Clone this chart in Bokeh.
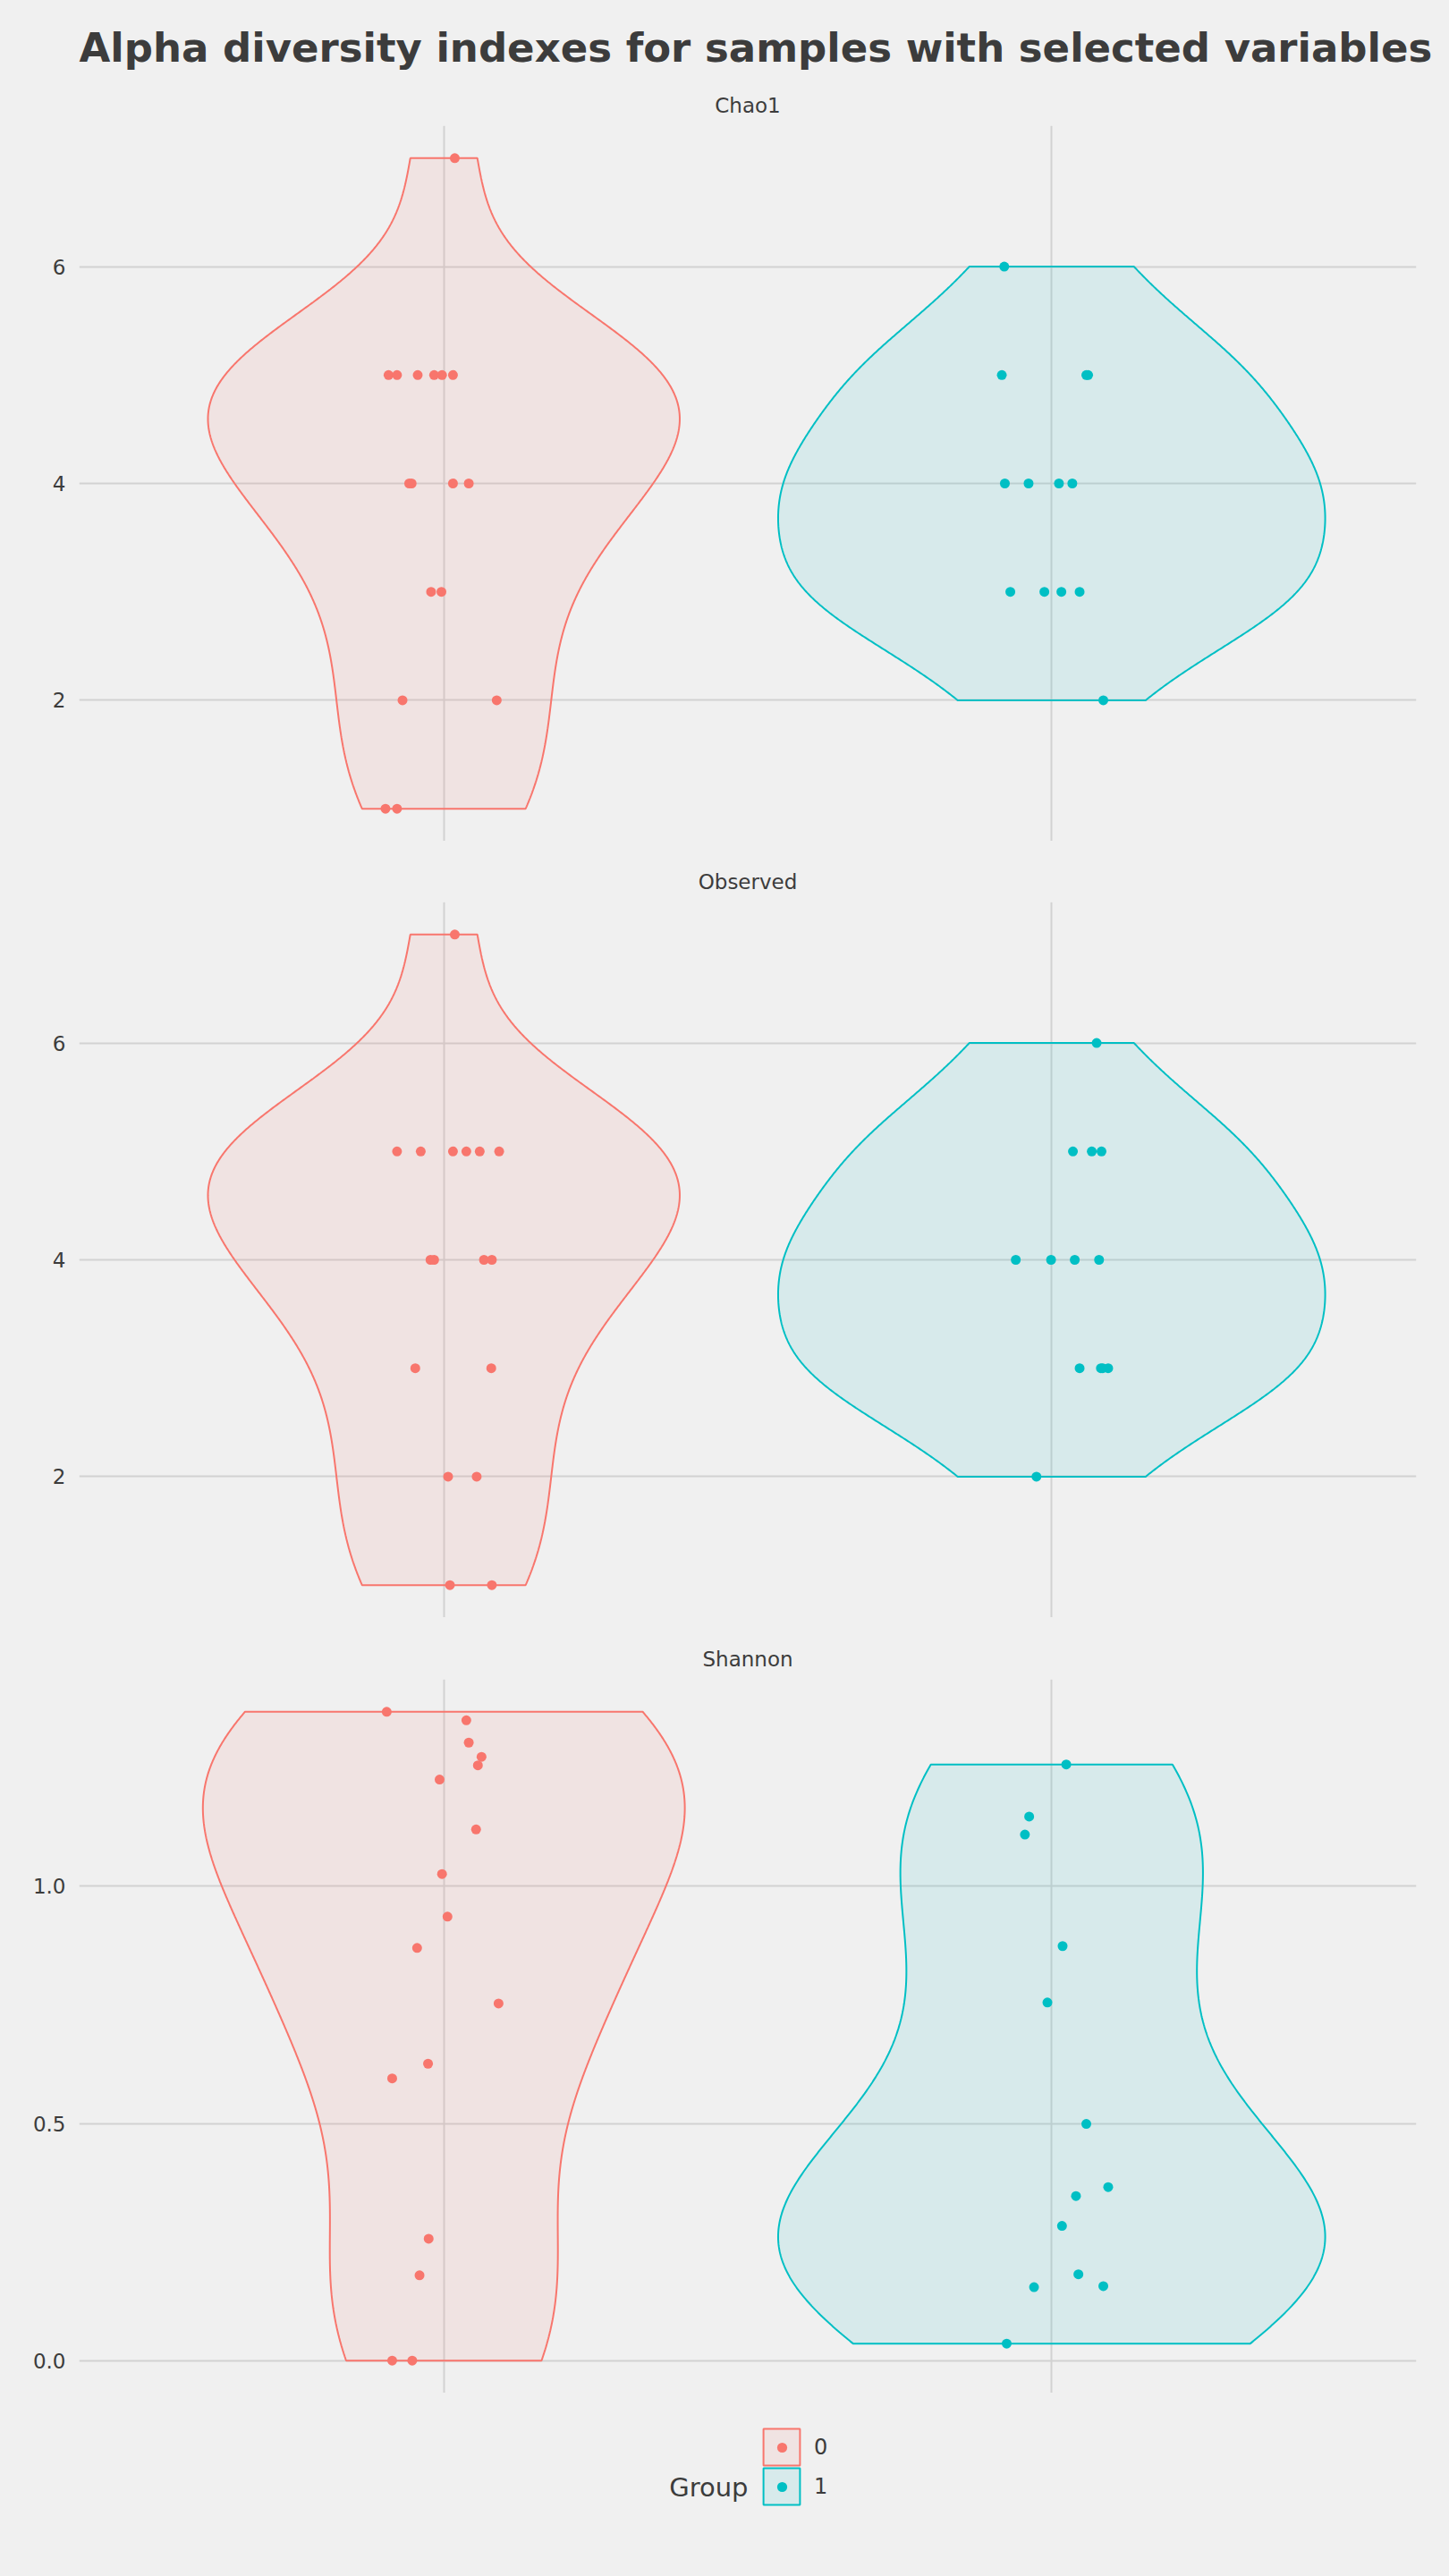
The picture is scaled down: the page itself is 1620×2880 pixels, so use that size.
import numpy as np
from bokeh.plotting import figure
from bokeh.models import (Range1d, FixedTicker, NumeralTickFormatter, BasicTickFormatter,
                          Title, Legend, LegendItem, Label, Grid)
from bokeh.core.properties import value
from bokeh.layouts import column
from bokeh.embed import file_html
from bokeh.resources import INLINE

# ---------------- data ----------------
main_title = "Alpha diversity indexes for samples with selected variables"
metrics = ["Chao1", "Observed", "Shannon"]
groups = ["0", "1"]
group_colors = ["#F8766D", "#00BFC4"]
legend_title = "Group"

chao1_g0 = [7, 5, 5, 5, 5, 5, 5, 4, 4, 4, 4, 3, 3, 2, 2, 1, 1]
chao1_g0_jitter = [0.018, -0.091, -0.077, -0.043, -0.016, -0.003, 0.015, -0.057, -0.053,
                   0.015, 0.041, -0.021, -0.004, -0.068, 0.087, -0.096, -0.077]
chao1_g1 = [6, 5, 5, 5, 4, 4, 4, 4, 3, 3, 3, 3, 2]
chao1_g1_jitter = [-0.078, -0.082, 0.057, 0.060, -0.077, -0.038, 0.012, 0.034, -0.068,
                   -0.012, 0.016, 0.046, 0.085]

observed_g0 = [7, 5, 5, 5, 5, 5, 5, 4, 4, 4, 4, 3, 3, 2, 2, 1, 1]
observed_g0_jitter = [0.018, -0.077, -0.038, 0.015, 0.037, 0.059, 0.091, -0.022, -0.016,
                      0.066, 0.079, -0.047, 0.078, 0.007, 0.054, 0.010, 0.079]
observed_g1 = [6, 5, 5, 5, 4, 4, 4, 4, 3, 3, 3, 3, 2]
observed_g1_jitter = [0.074, 0.035, 0.066, 0.082, -0.059, -0.001, 0.038, 0.078, 0.046,
                      0.081, 0.084, 0.093, -0.025]

shannon_g0 = [1.368, 1.350, 1.303, 1.273, 1.255, 1.225, 1.120, 1.026, 0.936, 0.870,
              0.753, 0.626, 0.595, 0.257, 0.180, 0.000, 0.000]
shannon_g0_jitter = [-0.094, 0.037, 0.041, 0.062, 0.056, -0.007, 0.053, -0.003, 0.006,
                     -0.044, 0.090, -0.026, -0.085, -0.025, -0.040, -0.085, -0.052]
shannon_g1 = [1.257, 1.147, 1.109, 0.874, 0.755, 0.499, 0.366, 0.347, 0.284, 0.182,
              0.157, 0.155, 0.036]
shannon_g1_jitter = [0.024, -0.037, -0.044, 0.018, -0.007, 0.057, 0.093, 0.040, 0.017,
                     0.044, 0.085, -0.029, -0.074]

chao1_ticks = [2, 4, 6]
observed_ticks = [2, 4, 6]
shannon_ticks = [0.0, 0.5, 1.0]

# ---------------- style ----------------
BG = "#F0F0F0"
TXT = "#3C3C3C"
GRID = "#D2D2D2"
FONT = "DejaVu Sans"
W = 1620
LEFT, RIGHT = 88, 37


def nrd0(x):
    x = np.asarray(x, float)
    sd = x.std(ddof=1)
    q75, q25 = np.percentile(x, [75, 25])
    lo = min(sd, (q75 - q25) / 1.34)
    if lo <= 0:
        lo = sd if sd > 0 else 1.0
    return 0.9 * lo * len(x) ** -0.2


def kde(x, grid):
    x = np.asarray(x, float)
    bw = nrd0(x)
    z = (grid[:, None] - x[None, :]) / bw
    return np.exp(-0.5 * z ** 2).sum(axis=1) / (len(x) * bw * np.sqrt(2 * np.pi))


def make_panel(name, series, jitters, ticks, fmt, height, top, first=False):
    allv = np.concatenate([np.asarray(s, float) for s in series])
    lo, hi = allv.min(), allv.max()
    pad = 0.05 * (hi - lo)
    p = figure(width=W, height=height, x_range=Range1d(0.4, 2.6),
               y_range=Range1d(lo - pad, hi + pad), x_axis_location=None,
               output_backend="svg", toolbar_location=None,
               min_border_left=LEFT, min_border_right=RIGHT,
               min_border_top=top, min_border_bottom=0,
               background_fill_color=BG, border_fill_color=BG,
               outline_line_color=None, styles={"background-color": BG})
    p.xgrid.grid_line_color = None
    positions = [i + 1 for i in range(len(groups))]
    p.add_layout(Grid(dimension=0, ticker=FixedTicker(ticks=positions),
                      grid_line_color=GRID, grid_line_width=2), "center")
    p.yaxis.ticker = FixedTicker(ticks=ticks)
    p.ygrid.ticker = FixedTicker(ticks=ticks)
    p.ygrid.grid_line_color = GRID
    p.ygrid.grid_line_width = 2
    p.yaxis.formatter = fmt
    p.yaxis.axis_line_color = None
    p.yaxis.major_tick_line_color = None
    p.yaxis.minor_tick_line_color = None
    p.yaxis.major_tick_out = 0
    p.yaxis.major_tick_in = 0
    p.yaxis.minor_tick_out = 0
    p.yaxis.major_label_standoff = 15
    p.yaxis.major_label_text_font_size = "23px"
    p.yaxis.major_label_text_color = TXT
    p.yaxis.major_label_text_font = FONT

    # violins (ggplot-style: gaussian KDE, trimmed, area-scaled within panel, width 0.9)
    dens = []
    for s in series:
        s = np.asarray(s, float)
        g = np.linspace(s.min(), s.max(), 512)
        dens.append((g, kde(s, g)))
    dmax = max(d.max() for _, d in dens)
    for xc, (g, d), c in zip(positions, dens, group_colors):
        half = d / dmax * 0.45
        xs = np.concatenate([xc - half, (xc + half)[::-1]])
        ys = np.concatenate([g, g[::-1]])
        p.patch(xs, ys, fill_color=c, fill_alpha=0.1, line_color=c, line_width=2)
    for xc, s, j, c in zip(positions, series, jitters, group_colors):
        p.scatter(xc + np.asarray(j), np.asarray(s, float), size=11,
                  fill_color=c, line_color=None)

    p.add_layout(Title(text=name, align="center", text_font_size="23px",
                       text_font=FONT, text_font_style="normal", text_color=TXT,
                       standoff=19), "above")
    if first:
        p.add_layout(Title(text=main_title, align="left", text_font_size="45px",
                           text_font=FONT, text_font_style="bold", text_color=TXT,
                           standoff=27), "above")
    return p


p1 = make_panel(metrics[0], [chao1_g0, chao1_g1], [chao1_g0_jitter, chao1_g1_jitter],
                chao1_ticks, BasicTickFormatter(), 940, 140, first=True)
p2 = make_panel(metrics[1], [observed_g0, observed_g1], [observed_g0_jitter, observed_g1_jitter],
                observed_ticks, BasicTickFormatter(), 868, 68)
p3 = make_panel(metrics[2], [shannon_g0, shannon_g1], [shannon_g0_jitter, shannon_g1_jitter],
                shannon_ticks, NumeralTickFormatter(format="0.0"), 867, 69)

# ---------------- legend strip (frame is aligned with the panels above) ----------------
p4 = figure(width=W, height=205, x_range=Range1d(0, 1), y_range=Range1d(0, 1),
            x_axis_location=None, y_axis_location=None, output_backend="svg",
            toolbar_location=None, min_border=0, min_border_left=0, min_border_right=0,
            min_border_top=0, min_border_bottom=0,
            background_fill_color=BG, border_fill_color=BG, outline_line_color=None,
            styles={"background-color": BG})
p4.grid.visible = False
nan = np.array([np.nan])
key_bottoms = [119, 75]
for gname, c, yb in zip(groups, group_colors, key_bottoms):
    rb = p4.patch(x=nan, y=nan, fill_color=c, fill_alpha=0.1, line_color=c, line_width=2)
    leg = Legend(items=[LegendItem(label=value(gname), renderers=[rb])],
                 location=(760, yb), orientation="vertical",
                 glyph_width=51, glyph_height=51, label_standoff=11,
                 label_text_font_size="24px", label_text_font=FONT, label_text_color=TXT,
                 padding=0, margin=0, border_line_color=None, background_fill_alpha=0)
    p4.add_layout(leg)

dot_items = []
for gname, c in zip(groups, group_colors):
    rd = p4.scatter(x=nan, y=nan, size=11, fill_color=c, line_color=None)
    dot_items.append(LegendItem(label=value(""), renderers=[rd]))
legB = Legend(items=dot_items, location=(771.5, 86.5), orientation="vertical",
              glyph_width=28, glyph_height=28, spacing=16, label_standoff=0,
              label_text_font_size="1px", label_width=1,
              padding=0, margin=0, border_line_color=None, background_fill_alpha=0)
p4.add_layout(legB)
p4.add_layout(Label(x=748, y=100, x_units="screen", y_units="screen", text=legend_title,
                    text_align="right", text_baseline="middle", text_font_size="29px",
                    text_font=FONT, text_color=TXT))

layout = column(p1, p2, p3, p4, spacing=0, styles={"background-color": BG})
open("out.html", "w").write(file_html(layout, INLINE))
